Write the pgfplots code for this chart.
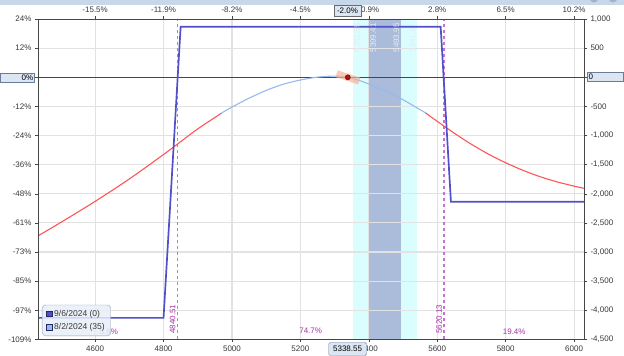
\documentclass[border=0pt]{standalone}
\usepackage{pgfplots}
\pgfplotsset{compat=1.18}
\usepackage{fontspec}
\setmainfont{Liberation Sans}
\definecolor{expblue}{RGB}{80,80,200}
\definecolor{tred}{RGB}{255,85,85}
\definecolor{tblue}{RGB}{150,185,240}
\definecolor{cyanband}{RGB}{218,253,253}
\definecolor{steelband}{RGB}{170,188,218}
\definecolor{gridgray}{RGB}{226,226,226}
\definecolor{axisgray}{RGB}{70,70,70}
\definecolor{labelgray}{RGB}{55,55,55}
\definecolor{purpdash}{RGB}{195,115,215}
\definecolor{purptext}{RGB}{165,50,165}
\definecolor{boxfill}{RGB}{220,230,242}
\definecolor{boxdraw}{RGB}{105,125,155}
\definecolor{legfill}{RGB}{232,238,247}
\definecolor{legdraw}{RGB}{145,162,188}
\definecolor{stripblue}{RGB}{200,216,235}
\definecolor{iconblue}{RGB}{160,178,202}
\definecolor{salmon}{RGB}{246,178,150}
\definecolor{dotred}{RGB}{170,20,20}
\definecolor{bandtext}{RGB}{228,236,245}
\begin{document}
\begin{tikzpicture}[font=\fontsize{8}{9.5}\selectfont]
\path (0,0) rectangle (624pt,356pt);
\begin{scope}
\clip (0,0) rectangle (624pt,356pt);
\fill[stripblue] (0,351pt) rectangle (624pt,357pt);
\fill[iconblue] (594pt,358pt) circle (4.5pt);
\fill[iconblue] (613pt,358pt) circle (4.5pt);
\end{scope}
\begin{axis}[
  at={(38pt,16.6pt)}, anchor=south west,
  scale only axis, width=546pt, height=320.3pt,
  xmin=4433, xmax=6029, ymin=-4500, ymax=1000,
  set layers,
  axis line style={draw=axisgray, line width=0.8pt},
  tick style={draw=axisgray, line width=0.6pt},
  tick align=outside, major tick length=3pt,
  xtick={4600,4800,5000,5200,5400,5600,5800,6000},
  xticklabels={4600,4800,5000,5200,\phantom{5}400,5600,5800,6000},
  ytick={-4500,-4000,-3500,-3000,-2500,-2000,-1500,-1000,-500,0,500,1000},
  yticklabels={-109\%,-97\%,-85\%,-73\%,-61\%,-48\%,-36\%,-24\%,-12\%,{},12\%,24\%},
  xtick pos=bottom, ytick pos=left,
  grid=major, major grid style={draw=gridgray, line width=1.1pt},
  ticklabel style={font=\fontsize{8}{9.5}\selectfont, text=labelgray},
  legend style={at={(axis description cs:0.0073,0.0106)}, anchor=south west,
    draw=legdraw, fill=legfill, fill opacity=0.85, text opacity=1,
    rounded corners=3.5pt, font=\fontsize{8.5}{10}\selectfont, text=labelgray,
    inner xsep=4pt, inner ysep=3pt, row sep=1.5pt},
  legend cell align=left,
]
\addlegendimage{legend image code/.code={\draw[sharp corners, draw=expblue!50!black, fill=expblue, fill opacity=1] (0pt,-2.8pt) rectangle (5.6pt,2.8pt);}}
\addlegendentry{9/6/2024 (0)}
\addlegendimage{legend image code/.code={\draw[sharp corners, draw=expblue!50!black, fill=tblue, fill opacity=1] (0pt,-2.8pt) rectangle (5.6pt,2.8pt);}}
\addlegendentry{8/2/2024 (35)}

% bands
\addplot[draw=none, fill=cyanband, on layer=axis background, forget plot]
  coordinates {(5352.55,-4500) (5352.55,1000) (5541.2,1000) (5541.2,-4500)} -- cycle;
\addplot[draw=none, fill=steelband, on layer=axis background, forget plot]
  coordinates {(5399.41,-4500) (5399.41,1000) (5493.95,1000) (5493.95,-4500)} -- cycle;

% zero line
\addplot[draw=axisgray, line width=0.9pt, forget plot] coordinates {(4433,0) (6029,0)};

% breakeven lines
\addplot[color=purpdash, line width=1.6pt, dash pattern=on 3.5pt off 2.5pt, forget plot]
  coordinates {(4840.51,-4500) (4840.51,1000)};
\addplot[color=purpdash, line width=1.6pt, dash pattern=on 3.5pt off 2.5pt, forget plot]
  coordinates {(5620.13,-4500) (5620.13,1000)};

% T+0 curve
\addplot[draw=tred, line width=1.1pt, smooth, forget plot] coordinates {
 (4433,-2722) (4500,-2490) (4600,-2130) (4700,-1745) (4800,-1325) (4850,-1105)
 (4900,-885) (4950,-690) (4970,-612)};
\addplot[draw=tblue, line width=1.1pt, smooth, forget plot] coordinates {
 (4970,-612) (5000,-510) (5050,-358) (5100,-224) (5150,-118) (5200,-46) (5250,4)
 (5290,20) (5310,18) (5338.55,0) (5370,-50) (5400,-115) (5450,-245) (5500,-385) (5565,-608)};
\addplot[draw=tred, line width=1.1pt, smooth, forget plot] coordinates {
 (5565,-608) (5600,-755) (5650,-960) (5700,-1150) (5750,-1320) (5800,-1467)
 (5850,-1595) (5900,-1705) (5950,-1795) (6000,-1868) (6029,-1905)};

% expiration line
\addplot[draw=expblue, line width=1.7pt, forget plot] coordinates {
 (4433,-4130) (4800,-4130) (4850,870) (5610,870) (5640,-2135) (6029,-2135)};

% current price marker
\addplot[draw=salmon, line width=7pt, opacity=0.7, forget plot] coordinates {(5306,62) (5372,-64)};
\addplot[only marks, mark=*, mark size=2.6pt, mark options={fill=dotred, draw=dotred!60!black}, forget plot]
  coordinates {(5338.55,0)};

% labels
\node[rotate=90, anchor=south west, text=purptext, inner sep=0.5pt] at (axis cs:4836.5,-4411) {4840.51};
\node[rotate=90, anchor=south west, text=purptext, inner sep=0.5pt] at (axis cs:5616,-4411) {5620.13};
\node[text=purptext] at (axis cs:4640,-4360) {5.6\%};
\node[text=purptext] at (axis cs:5230,-4360) {74.7\%};
\node[text=purptext] at (axis cs:5825,-4360) {19.4\%};
\node[rotate=90, anchor=north west, text=bandtext, inner sep=0.5pt] at (axis cs:5355,417) {5352.55};
\node[rotate=90, anchor=north west, text=bandtext, inner sep=0.5pt] at (axis cs:5402,417) {5399.41};
\node[rotate=90, anchor=south west, text=bandtext, inner sep=0.5pt] at (axis cs:5491,417) {5493.95};
\node[rotate=90, anchor=south west, text=bandtext, inner sep=0.5pt] at (axis cs:5538,417) {5541.2};
\end{axis}

\begin{axis}[
  at={(38pt,16.6pt)}, anchor=south west,
  scale only axis, width=546pt, height=320.3pt,
  xmin=4433, xmax=6029, ymin=-4500, ymax=1000,
  axis line style={draw=axisgray, line width=0.8pt},
  tick style={draw=axisgray, line width=0.6pt},
  tick align=outside, major tick length=3pt,
  xtick={4600,4800,5000,5200,5400,5600,5800,6000},
  xticklabels={-15.5\%,-11.9\%,-8.2\%,-4.5\%,\phantom{-}0.9\%,2.8\%,6.5\%,10.2\%},
  xtick pos=top, xticklabel pos=top,
  ytick={-4500,-4000,-3500,-3000,-2500,-2000,-1500,-1000,-500,0,500,1000},
  yticklabels={{-4,500},{-4,000},{-3,500},{-3,000},{-2,500},{-2,000},{-1,500},{-1,000},{-500},{},{500},{1,000}},
  ytick pos=right, yticklabel pos=right,
  ticklabel style={font=\fontsize{8}{9.5}\selectfont, text=labelgray},
]
\addplot[draw=none, forget plot] coordinates {(4433,0) (6029,0)};
\end{axis}

% highlighted value boxes
\node[draw=boxdraw, fill=boxfill, inner xsep=1pt, inner ysep=0pt, minimum height=9pt,
  text width=32pt, align=right, anchor=east] at (34.5pt,278.7pt) {0\%};
\node[draw=boxdraw, fill=boxfill, inner xsep=1.5pt, inner ysep=0pt, minimum height=9pt,
  text width=33pt, align=left, anchor=west] at (587pt,279pt) {0};
\node[draw=axisgray!80, fill=boxfill, inner sep=1pt, minimum width=26.5pt, minimum height=11pt]
  at (347.5pt,345.5pt) {-2.0\%};
\node[draw=boxdraw, fill=boxfill, rounded corners=1.5pt, minimum width=37.8pt, minimum height=13pt, inner sep=1pt]
  at (347.6pt,7pt) {5338.55};
\end{tikzpicture}
\end{document}
